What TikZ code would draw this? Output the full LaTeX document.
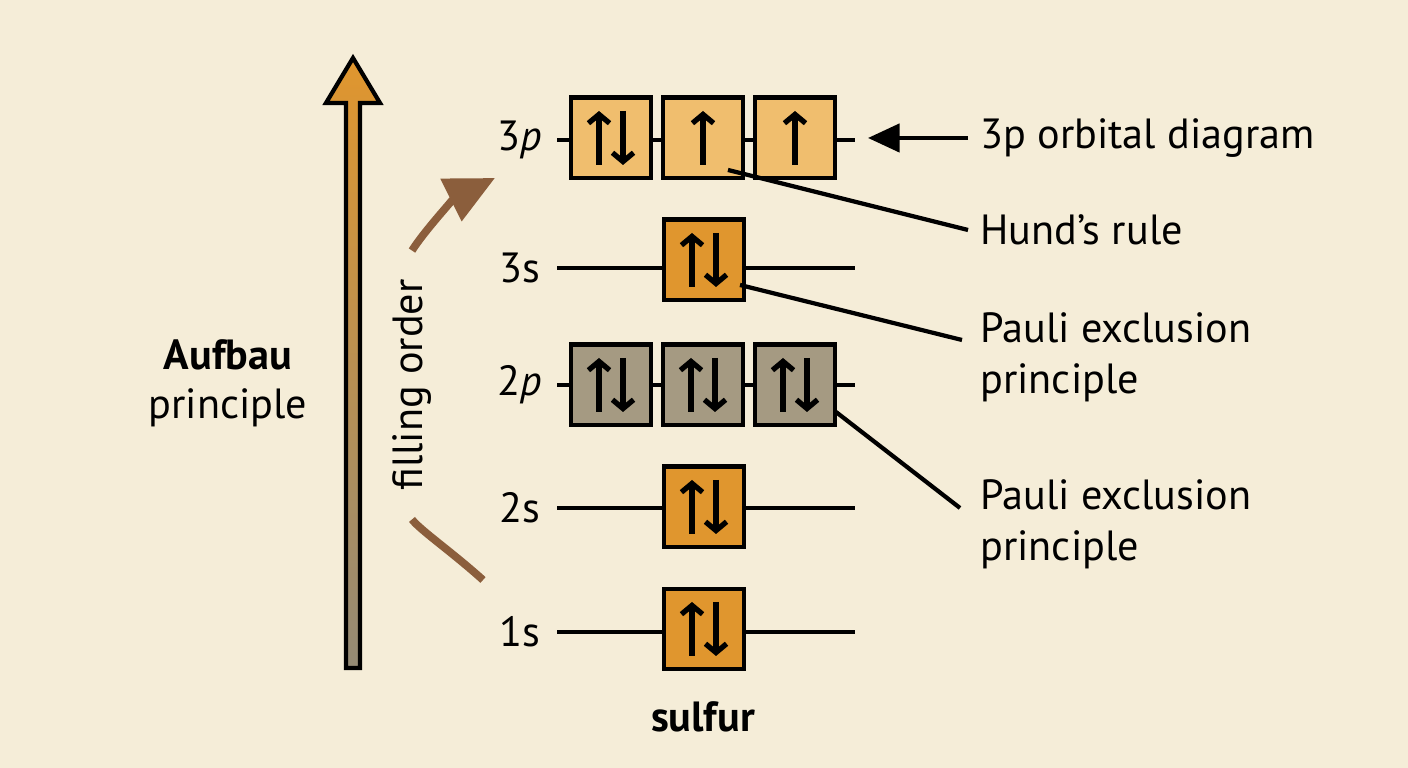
\documentclass[tikz,border=0pt]{standalone}
\usepackage{fontspec}
\setmainfont{PT Sans}
\usetikzlibrary{arrows.meta}
\definecolor{bg}{HTML}{F5EDD8}
\definecolor{sorange}{HTML}{E0962E}
\definecolor{porange}{HTML}{F0BE6E}
\definecolor{pgrey}{HTML}{A59A82}
\definecolor{fbrown}{HTML}{8B5E3C}
\tikzset{spin/.style = {line width=1.5pt, -{Straight Barb[length=2.5pt,width=6pt]}},
         box/.style = {draw, line width=1.4pt, minimum size=0.8cm, inner sep=0pt},
         level/.style = {line width=1.3pt},
         lbl/.style = {font=\fontsize{12}{14}\selectfont},
         note/.style = {font=\fontsize{12}{14.5}\selectfont, align=left, anchor=west}}

\begin{document}
\begin{tikzpicture}[x=0.01cm,y=-0.01cm]
    \fill[bg] (0,0) rectangle (1408,768);

    % big arrow
    \shade[bottom color=pgrey!90!black, top color=sorange, draw=black, line width=1.2pt]
        (346,668)--(346,103)--(326,103)--(353,58)--(380,103)--(360,103)--(360,668)--cycle;
    \node[lbl, align=center] (aufbau) at (228,383) {\textbf{Aufbau}\\principle};

    % filling order
    \node[lbl, rotate=90, inner sep=8pt] (fill) at (412,385) {filling order};
    \draw[fbrown, line width=2.2pt] (483,580) .. controls (452,552) and (420,530) .. (fill.west);
    \draw[fbrown, line width=2.2pt, -{Triangle[length=14pt,width=13pt]}] (fill.east) .. controls (425,230) and (455,198) .. (495,178);

    % levels
    \draw[level] (557,140) -- (855,140);
    \draw[level] (557,268) -- (855,268);
    \draw[level] (557,385) -- (855,385);
    \draw[level] (557,508) -- (855,508);
    \draw[level] (557,632) -- (855,632);

    \node[lbl] (l3p) at (520,140) {3\textit{p}};
    \node[lbl] (l3s) at (520,268) {3s};
    \node[lbl] (l2p) at (520,385) {2\textit{p}};
    \node[lbl] (l2s) at (520,508) {2s};
    \node[lbl] (l1s) at (520,632) {1s};

    \node[box, fill=porange] (p3a) at (611,138) {};
    \node[box, fill=porange] (p3b) at (703,138) {};
    \node[box, fill=porange] (p3c) at (795,138) {};
    \node[box, fill=sorange] (s3) at (704,260) {};
    \node[box, fill=pgrey] (p2a) at (611,385) {};
    \node[box, fill=pgrey] (p2b) at (703,385) {};
    \node[box, fill=pgrey] (p2c) at (795,385) {};
    \node[box, fill=sorange] (s2) at (704,507) {};
    \node[box, fill=sorange] (s1) at (704,629) {};

    \foreach \b in {p3a,s3,p2a,p2b,p2c,s2,s1}{
        \draw[spin] ([shift={(-12,27)}]\b.center) -- ++(0,-54);
        \draw[spin] ([shift={(12,-27)}]\b.center) -- ++(0,54);
    }
    \draw[spin] ([shift={(0,27)}]p3b.center) -- ++(0,-54);
    \draw[spin] ([shift={(0,27)}]p3c.center) -- ++(0,-54);

    % notes
    \node[note] (n3p) at (968,138) {3p orbital diagram};
    \node[note] (hund) at (968,230) {Hund’s rule};
    \node[note] (pauli1) at (968,357) {Pauli exclusion\\principle};
    \node[note] (pauli2) at (968,524) {Pauli exclusion\\principle};
    \coordinate (h0) at (728,170);
    \coordinate (q0) at (740,285);
    \coordinate (r0) at (836,412);
    \draw[line width=1.2pt, -{Triangle[length=9pt,width=8pt]}] (n3p.west) -- (868,138);
    \draw[line width=1.2pt] (h0) -- (hund.west);
    \draw[line width=1.2pt] (q0) -- (962,340);
    \draw[line width=1.2pt] (r0) -- (960,508);

    \node[lbl] (sulfur) at (703,717) {\textbf{sulfur}};
\end{tikzpicture}
\end{document}
